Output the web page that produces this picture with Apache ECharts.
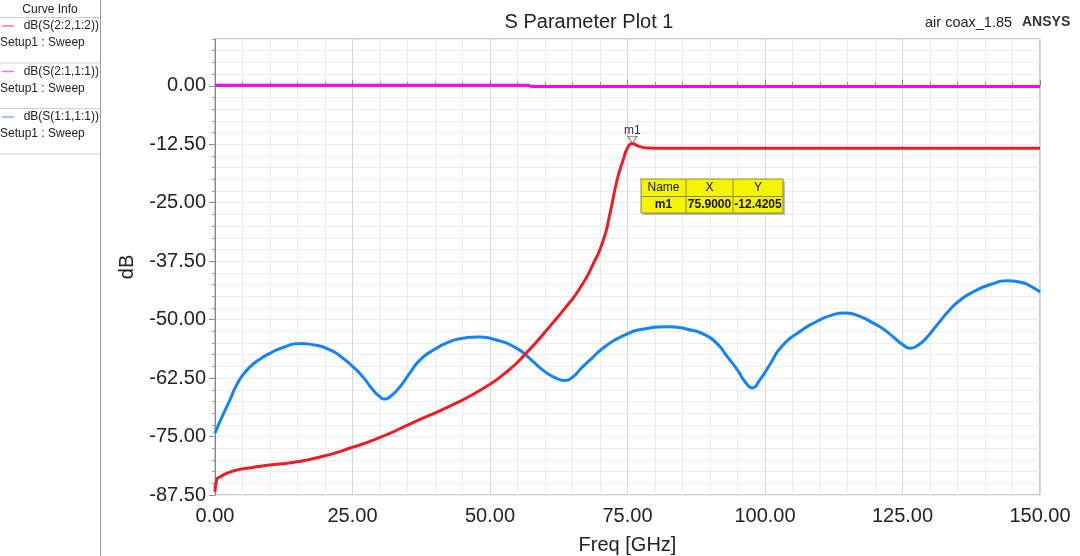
<!DOCTYPE html>
<html>
<head>
<meta charset="utf-8">
<script src="https://cdn.jsdelivr.net/npm/echarts@6/dist/echarts.min.js"></script>
<style>
  html, body { margin: 0; padding: 0; background: #fff; }
  #main { width: 1080px; height: 556px; }
</style>
</head>
<body>
<div id="main"></div>
<script>
var dom = document.getElementById("main");
var myChart = echarts.init(dom, null, { renderer: 'canvas' });
var FONT = "'Liberation Sans', Arial, sans-serif";

// curve names, as in the Curve Info panel
const curveNames = ['dB(S(2:2,1:2))', 'dB(S(2:1,1:1))', 'dB(S(1:1,1:1))'];
const curveColors = ['#ee1c25', '#ff00ff', '#1483f5'];

// [freq GHz, dB]
const s22 = [[0,-86.8],[0.3,-84.2],[1,-83.6],[2.7,-82.6],[5.8,-81.8],[10,-81.1],[14.9,-80.4],
  [20,-79.1],[25,-77.3],[30,-75.2],[36,-72],[42.5,-68.6],[48.5,-64.9],[53,-61.2],[56.7,-57],
  [60.9,-51.4],[63.6,-47.6],[66.4,-43.2],[68.8,-38],[70.6,-33],[71.8,-27.4],[73.1,-20.2],
  [74.2,-15.9],[75.1,-13.1],[75.9,-12.42],[77,-12.9],[78.5,-13.3],[80,-13.35],[150,-13.35]];

const s21 = [[0,0.1],[57,0.1],[57.5,-0.15],[150,-0.15]];

const s11 = [[0,-74.3],[1,-71.5],[2.7,-67.2],[4,-63.8],[5.8,-60.8],[8,-58.6],[10,-57.2],[12.5,-55.9],
  [15.5,-55.1],[18,-55.4],[21,-56.5],[23,-58],[25.1,-60.1],[27,-62.4],[28.7,-65],[30,-66.5],
  [30.8,-67],[31.8,-66.5],[33.6,-64.4],[35.5,-61.3],[37.3,-58.6],[40,-56.3],[42.5,-54.8],[45,-54],
  [47.8,-53.7],[51,-54.3],[54.8,-56.1],[57.5,-58.6],[59.6,-60.8],[62,-62.5],[63.6,-63],[65,-62.3],
  [66.5,-60.5],[68.2,-58.6],[71,-55.7],[74.2,-53.5],[78,-52],[82.2,-51.5],[86,-52.1],[89.2,-53.3],
  [91.5,-55.4],[93,-57.7],[95,-60.8],[96.5,-63.5],[97.7,-64.6],[99,-63],[100.9,-59.6],[103,-55.8],
  [106.4,-52.5],[109.4,-50.4],[112,-49.1],[114.5,-48.6],[117,-49.2],[119.6,-50.7],[121.5,-52],
  [123.3,-53.7],[125,-55.3],[126.4,-56.1],[127.8,-55.5],[129.5,-53.7],[131.5,-50.8],[133.6,-47.9],
  [135.5,-45.8],[137.8,-44.1],[141,-42.5],[144,-41.7],[146.5,-42],[148.5,-43],[150,-44.1]];

// marker m1
const marker = { name: 'm1', x: 75.9, y: -12.4205 };

// axis setup
const xMin = 0, xMax = 150, xStep = 25;
const yMin = -87.5, yMax = 10, yStep = 12.5, yMinorStep = 2.5;

// left "Curve Info" panel
var panel = [
  { type: 'line', shape: { x1: 100.5, y1: 0, x2: 100.5, y2: 556 }, style: { stroke: '#9a9a9a', lineWidth: 1 } },
  { type: 'text', x: 50, y: 10, style: { text: 'Curve Info', font: '12px ' + FONT, fill: '#222', align: 'center', verticalAlign: 'middle' } },
  { type: 'line', shape: { x1: 0, y1: 17.5, x2: 100, y2: 17.5 }, style: { stroke: '#d0d0d0', lineWidth: 1 } }
];
curveNames.forEach(function (n, i) {
  var top = 17 + i * 45.5;
  panel.push({ type: 'line', shape: { x1: 2, y1: top + 9, x2: 14, y2: top + 9 }, style: { stroke: curveColors[i], lineWidth: 1.5, opacity: 0.6 } });
  panel.push({ type: 'text', x: 99, y: top + 9, style: { text: n, font: '12px ' + FONT, fill: '#222', align: 'right', verticalAlign: 'middle' } });
  panel.push({ type: 'text', x: 0, y: top + 26, style: { text: 'Setup1 : Sweep', font: '12px ' + FONT, fill: '#222', align: 'left', verticalAlign: 'middle' } });
  panel.push({ type: 'line', shape: { x1: 0, y1: top + 46, x2: 100, y2: top + 46 }, style: { stroke: '#d0d0d0', lineWidth: 1 } });
});

// marker table
var tbl = { x: 641, y: 179, w: 142, h: 34, c1: 45, c2: 92 };
var tableCell = function (txt, cx, cy, bold) {
  return { type: 'text', x: tbl.x + cx, y: tbl.y + cy, z: 102,
    style: { text: txt, font: (bold ? 'bold ' : '') + '12px ' + FONT, fill: '#111', align: 'center', verticalAlign: 'middle' } };
};
var table = [
  { type: 'rect', shape: { x: tbl.x + 2, y: tbl.y + 2, width: tbl.w, height: tbl.h }, z: 100, style: { fill: 'rgba(0,0,0,0.25)' } },
  { type: 'rect', shape: { x: tbl.x, y: tbl.y, width: tbl.w, height: tbl.h }, z: 101, style: { fill: '#f4f400', stroke: '#8a8a3a', lineWidth: 1 } },
  { type: 'line', shape: { x1: tbl.x, y1: tbl.y + 17.5, x2: tbl.x + tbl.w, y2: tbl.y + 17.5 }, z: 102, style: { stroke: '#8a8a3a', lineWidth: 1 } },
  { type: 'line', shape: { x1: tbl.x + tbl.c1, y1: tbl.y, x2: tbl.x + tbl.c1, y2: tbl.y + tbl.h }, z: 102, style: { stroke: '#8a8a3a', lineWidth: 1 } },
  { type: 'line', shape: { x1: tbl.x + tbl.c2, y1: tbl.y, x2: tbl.x + tbl.c2, y2: tbl.y + tbl.h }, z: 102, style: { stroke: '#8a8a3a', lineWidth: 1 } },
  tableCell('Name', 22.5, 9, false),
  tableCell('X', 68.5, 9, false),
  tableCell('Y', 117, 9, false),
  tableCell(marker.name, 22.5, 26, true),
  tableCell(marker.x.toFixed(4), 68.5, 26, true),
  tableCell(marker.y.toFixed(4), 117, 26, true)
];

option = {
  animation: false,
  backgroundColor: '#fff',
  textStyle: { fontFamily: FONT },
  title: [
    { text: 'S Parameter Plot 1', left: 584, top: 7, textAlign: 'center',
      textStyle: { fontSize: 20, fontWeight: 'normal', color: '#222', fontFamily: FONT } },
    { text: 'air coax_1.85', left: 920, top: 10,
      textStyle: { fontSize: 14.5, fontWeight: 'normal', color: '#222', fontFamily: FONT } },
    { text: 'ANSYS', left: 1017, top: 10,
      textStyle: { fontSize: 14, fontWeight: 'bold', color: '#333', fontFamily: FONT } }
  ],
  grid: { left: 215, right: 40, top: 39, bottom: 61, outerBoundsMode: 'none', containLabel: false,
    show: true, borderColor: '#9a9a9a', borderWidth: 1, backgroundColor: 'transparent' },
  xAxis: {
    type: 'value', min: xMin, max: xMax, interval: xStep,
    name: 'Freq [GHz]', nameLocation: 'middle', nameGap: 40,
    nameTextStyle: { fontSize: 20, color: '#222', fontFamily: FONT },
    axisLine: { lineStyle: { color: '#888' } },
    axisTick: { inside: true, length: 6, lineStyle: { color: '#888' } },
    minorTick: { show: true, splitNumber: 5, length: 4, lineStyle: { color: '#999' } },
    axisLabel: { fontSize: 20, color: '#222', margin: 11, formatter: function (v) { return v.toFixed(2); } },
    splitLine: { show: true, lineStyle: { color: '#d8d8d8' } },
    minorSplitLine: { show: true, lineStyle: { color: '#ececec' } }
  },
  yAxis: [
    {
      type: 'value', min: yMin, max: yMax, interval: yStep,
      name: 'dB', nameLocation: 'middle', nameGap: 78, nameRotate: 90,
      nameTextStyle: { fontSize: 20, color: '#222', fontFamily: FONT },
      axisLine: { show: true, lineStyle: { color: '#888' } },
      axisTick: { show: true, length: 6, lineStyle: { color: '#888' } },
      axisLabel: { fontSize: 20, color: '#222', margin: 9, showMaxLabel: false,
        formatter: function (v) { return v.toFixed(2); } },
      splitLine: { show: true, lineStyle: { color: '#d8d8d8' } }
    },
    {
      // minor divisions every 2.5 dB
      type: 'value', min: yMin, max: yMax, interval: yMinorStep, position: 'left',
      axisLine: { show: false },
      axisTick: { show: true, length: 3, lineStyle: { color: '#999' } },
      axisLabel: { show: false },
      splitLine: { show: true, lineStyle: { color: '#ececec' } },
      z: 0
    }
  ],
  series: [
    {
      name: curveNames[1], type: 'line', data: s21, showSymbol: false, yAxisIndex: 0,
      lineStyle: { color: curveColors[1], width: 3 }, itemStyle: { color: curveColors[1] }, z: 3
    },
    {
      name: curveNames[2], type: 'line', data: s11, showSymbol: false, smooth: 0.6, yAxisIndex: 0,
      lineStyle: { color: curveColors[2], width: 3 }, itemStyle: { color: curveColors[2] }, z: 4
    },
    {
      name: curveNames[0], type: 'line', data: s22, showSymbol: false, smooth: 0.6, yAxisIndex: 0,
      lineStyle: { color: curveColors[0], width: 3 }, itemStyle: { color: curveColors[0] }, z: 5,
      markPoint: {
        symbol: 'triangle', symbolRotate: 180, symbolSize: [9, 7], symbolOffset: [0, -4],
        itemStyle: { color: '#fff', borderColor: '#777', borderWidth: 1 },
        label: { show: true, position: 'top', distance: -1, formatter: marker.name, fontSize: 12, color: '#333', fontFamily: FONT },
        data: [{ coord: [marker.x, marker.y] }]
      }
    }
  ],
  graphic: panel.concat(table)
};

if (option && typeof option === "object") {
  myChart.setOption(option, true);
}
</script>
</body>
</html>
